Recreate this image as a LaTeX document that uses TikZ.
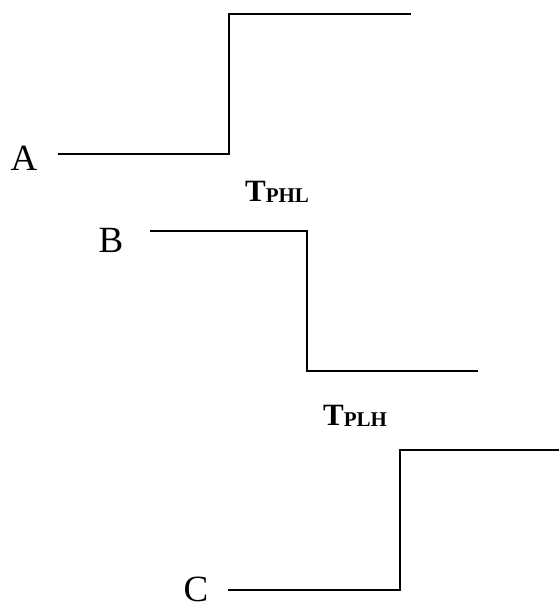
\documentclass[tikz,border=0pt]{standalone}
\usepackage{fontspec}
\setmainfont{Liberation Serif}
\usetikzlibrary{positioning}
\def\delay#1{{\bfseries\fontsize{31}{31}\selectfont T\raisebox{-1.5pt}{\fontsize{21}{21}\selectfont #1}}}

\begin{document}
\begin{tikzpicture}[x=1pt, y=-1pt]
		%%%%% START %%%%%
		\useasboundingbox (0, 0) rectangle (559, 608);
		
		\tikzset{wave/.style={line width=2.8pt, line join=miter}, sig/.style={inner sep=0pt, font=\fontsize{37}{37}\selectfont}}
		
		% input A rises
		\node[sig] (A) at (24, 158) {A};
		\draw[wave] (58, 154) -- (229, 154) -- (229, 14) -- (411, 14);
		
		\node[inner sep=0pt] (tphl) at (277, 192) {\delay{PHL}};
		
		% output B falls
		\node[sig] (B) at (111, 240) {B};
		\draw[wave] (150, 231) -- (307, 231) -- (307, 371) -- (478, 371);
		
		\node[inner sep=0pt] (tplh) at (355, 416) {\delay{PLH}};
		
		% output C rises
		\node[sig] (C) at (196, 589) {C};
		\draw[wave] (228, 590) -- (400, 590) -- (400, 450) -- (559, 450);
		
		%%%%% END %%%%%
	\end{tikzpicture}
\end{document}
